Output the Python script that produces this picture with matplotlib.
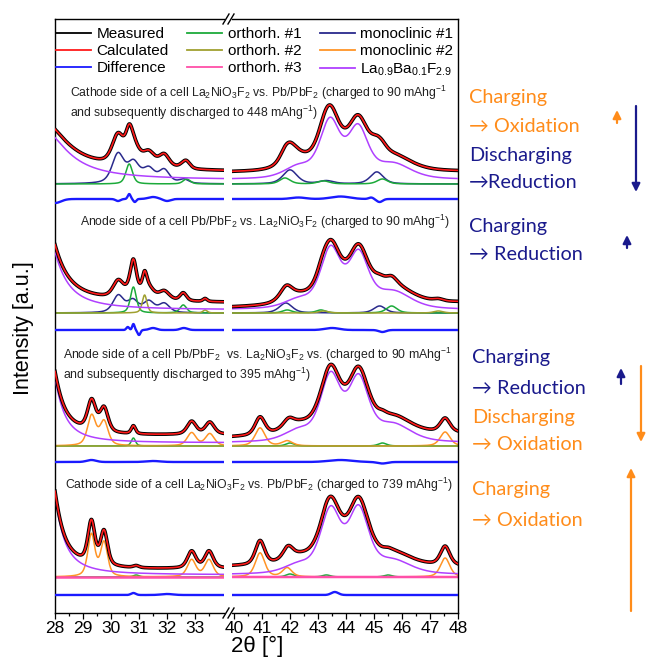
import numpy as np
import matplotlib
matplotlib.use("Agg")
import matplotlib.pyplot as plt
from matplotlib.lines import Line2D
from matplotlib.patches import FancyArrowPatch

plt.rcParams['font.family'] = ['Liberation Sans', 'DejaVu Sans']
plt.rcParams['mathtext.fontset'] = 'custom'
plt.rcParams['mathtext.rm'] = 'Liberation Sans'
plt.rcParams['mathtext.it'] = 'Liberation Sans:italic'
plt.rcParams['mathtext.bf'] = 'Liberation Sans:bold'

# phase colours
C_MEAS = '#000000'
C_CALC = '#FF1A1A'
C_DIFF = '#1A1AFF'
C_ORTH1 = '#1CAA3A'
C_ORTH2 = '#A0A030'
C_ORTH3 = '#FF4FA8'
C_MONO1 = '#2A2A8C'
C_MONO2 = '#FF9426'
C_LABF = '#B040FF'
ORANGE = '#FF8C1A'
NAVY = '#1A1A8C'

# peak lists: (2theta, height, fwhm[, lorentz fraction]), heights in a.u. above the pattern baseline
# pattern 1: cathode, charged to 90 / discharged to 448 mAh/g
p1_labf = [(27.5, 52, 2.1, 1.0), (43.43, 56, 0.85), (44.43, 48, 0.85), (42.3, 11, 1.2), (45.7, 14, 1.5)]
p1_mono1 = [(30.25, 29, 0.5), (30.8, 20, 0.5), (31.35, 14, 0.5), (31.9, 13, 0.45), (32.6, 4, 0.4),
            (42.0, 14, 0.6), (43.3, 3, 0.6), (45.1, 12, 0.55)]
p1_orth1 = [(30.65, 20, 0.28), (32.7, 5, 0.3), (41.82, 6, 0.45), (43.2, 3, 0.5), (45.3, 5, 0.45)]
p1_diff = [(28.0, -4, 0.5), (30.25, -2, 0.2), (30.65, 5, 0.12), (30.85, -3, 0.12), (31.5, 2, 0.4),
           (32.0, -2, 0.3), (42.3, 1.5, 0.6), (43.8, 2.5, 0.8), (44.9, 1.5, 0.2), (45.2, -3, 0.25)]

# pattern 2: anode, charged to 90 mAh/g
p2_labf = [(27.5, 102, 1.15, 1.0), (43.45, 58, 0.85), (44.45, 52, 0.85), (42.3, 8, 1.2), (45.7, 16, 1.5)]
p2_mono1 = [(30.26, 17, 0.45), (30.78, 12, 0.45), (31.35, 11, 0.45), (31.9, 9, 0.45),
            (41.85, 10, 0.55), (45.2, 7, 0.5)]
p2_orth1 = [(30.8, 26, 0.25), (32.58, 8, 0.28), (41.9, 3, 0.4), (43.1, 3, 0.4), (45.63, 7, 0.45)]
p2_orth2 = [(31.2, 18, 0.2), (33.36, 3, 0.18), (43.2, 2, 0.4), (47.3, 2, 0.4)]
p2_diff = [(30.6, 3, 0.12), (30.8, 6, 0.1), (31.0, -5, 0.12), (31.5, 2, 0.3), (32.6, 2, 0.3),
           (43.5, 2, 0.6), (45.3, -2, 0.3)]

# pattern 3: anode, charged to 90 / discharged to 395 mAh/g
p3_labf = [(27.7, 100, 0.82, 1.0), (43.45, 64, 0.85), (44.45, 60, 0.85), (42.3, 10, 1.2), (45.7, 16, 1.5)]
p3_mono2 = [(29.31, 30, 0.35), (29.75, 24, 0.35), (32.88, 13, 0.38), (33.53, 12, 0.38),
            (40.93, 18, 0.42), (41.9, 5, 0.45), (47.54, 14, 0.42)]
p3_orth1 = [(30.8, 8, 0.18), (42.0, 3, 0.35), (45.3, 3, 0.35)]
p3_diff = [(29.3, 2, 0.4), (31.5, 1, 0.6), (43.8, 2, 1.0), (45.3, -1.5, 0.4)]

# pattern 4: cathode, charged to 739 mAh/g
p4_labf = [(27.7, 124, 0.8, 1.0), (43.45, 62, 0.85), (44.45, 62, 0.85), (42.3, 8, 1.2), (45.7, 12, 1.5)]
p4_mono2 = [(29.3, 42, 0.3), (29.75, 34, 0.3), (32.88, 17, 0.36), (33.5, 17, 0.36),
            (40.93, 24, 0.4), (41.9, 9, 0.4), (47.54, 19, 0.4)]
p4_orth1 = [(30.9, 2, 0.25), (42.0, 3, 0.35), (43.3, 2, 0.35), (45.5, 2, 0.35)]
p4_diff = [(30.8, 2, 0.2), (32.0, 1, 0.5), (43.6, 3, 0.3)]

# vertical stacking (baseline, difference line), LaF3 offset, background (left start/end, right start/end)
offsets = [484, 355, 222, 91]
diff_offsets = [469, 338, 206, 73]
labf_offsets = [4, 3, 3, 2]
backgrounds = [(8, 8, 7, 8), (7, 7, 2, 7), (6, 8, 5, 9), (4, 6, 8, 8)]

titles = [
    ["Cathode side of a cell La$_2$NiO$_3$F$_2$ vs. Pb/PbF$_2$ (charged to 90 mAhg$^{-1}$",
     "and subsequently discharged to 448 mAhg$^{-1}$)"],
    ["Anode side of a cell Pb/PbF$_2$ vs. La$_2$NiO$_3$F$_2$ (charged to 90 mAhg$^{-1}$)"],
    ["Anode side of a cell Pb/PbF$_2$  vs. La$_2$NiO$_3$F$_2$ vs. (charged to 90 mAhg$^{-1}$",
     "and subsequently discharged to 395 mAhg$^{-1}$)"],
    ["Cathode side of a cell La$_2$NiO$_3$F$_2$ vs. Pb/PbF$_2$ (charged to 739 mAhg$^{-1}$)"],
]
title_pos = [(70, 93), (80, 222), (63, 355), (65, 485)]

# right-hand notes: (x px, y px, text, colour)
notes = [
    (469, 97, "Charging", ORANGE), (469, 127, "\u2192 Oxidation", ORANGE),
    (469, 155, "Discharging", NAVY), (469, 183, "\u2192Reduction", NAVY),
    (469, 227, "Charging", NAVY), (469, 255, "\u2192 Reduction", NAVY),
    (472, 358, "Charging", NAVY), (472, 388, "\u2192 Reduction", NAVY),
    (472, 417, "Discharging", ORANGE), (472, 445, "\u2192 Oxidation", ORANGE),
    (472, 490, "Charging", ORANGE), (472, 520, "\u2192 Oxidation", ORANGE),
]
# arrows: (x px, y tail px, y head px, colour)
arrows = [(617, 123, 110, ORANGE), (636, 106, 192, NAVY), (627, 248, 235, NAVY),
          (621, 384, 368, NAVY), (641, 366, 442, ORANGE), (631, 611, 468, ORANGE)]

W, H = 646, 668


def fx(px):
    return px / W


def fy(py):
    return 1 - py / H


def pvoigt(x, peaks, eta=0.5):
    y = np.zeros_like(x)
    for pk in peaks:
        pos, h, w = pk[:3]
        e = pk[3] if len(pk) > 3 else eta
        d = (x - pos) / w
        y += h * (e / (1 + 4 * d * d) + (1 - e) * np.exp(-4 * np.log(2) * d * d))
    return y


def bumps(x, feats):
    y = np.zeros_like(x)
    for pos, a, w in feats:
        y += a * np.exp(-4 * np.log(2) * ((x - pos) / w) ** 2)
    return y


fig = plt.figure(figsize=(6.46, 6.68), dpi=100)
ax1 = fig.add_axes([fx(55), fy(613), fx(224) - fx(55), fy(19) - fy(613)])
ax2 = fig.add_axes([fx(232), fy(613), fx(458) - fx(232), fy(19) - fy(613)])
xl = np.linspace(28, 28 + (224 - 55) / 28, 900)
xr = np.linspace(48 - (458 - 232) / 28, 48, 1200)

patterns = [
    dict(labf=p1_labf, phases=[(p1_mono1, C_MONO1), (p1_orth1, C_ORTH1)], diff=p1_diff),
    dict(labf=p2_labf, phases=[(p2_mono1, C_MONO1), (p2_orth1, C_ORTH1), (p2_orth2, C_ORTH2)], diff=p2_diff),
    dict(labf=p3_labf, phases=[(p3_orth1, C_ORTH1), (p3_mono2, C_MONO2), ([], C_ORTH2)], diff=p3_diff),
    dict(labf=p4_labf, phases=[(p4_orth1, C_ORTH1), (p4_mono2, C_MONO2), ([], C_ORTH3)], diff=p4_diff),
]

for i, pat in enumerate(patterns):
    off = offsets[i]
    bl0, bl1, br0, br1 = backgrounds[i]
    for ax, x, b0, b1 in [(ax1, xl, bl0, bl1), (ax2, xr, br0, br1)]:
        bg = b0 + (b1 - b0) * (x - x[0]) / (x[-1] - x[0])
        labf = labf_offsets[i] + pvoigt(x, pat['labf'])
        calc = bg + labf
        for peaks, col in pat['phases']:
            ph = pvoigt(x, peaks)
            calc = calc + ph
            lw = 1.8 if col == C_ORTH3 else 1.1
            ax.plot(x, off + ph, color=col, lw=lw, zorder=2)
        ax.plot(x, off + labf, color=C_LABF, lw=1.1, zorder=3)
        ax.plot(x, off + calc, color=C_MEAS, lw=2.6, zorder=4)
        ax.plot(x, off + calc, color=C_CALC, lw=1.2, zorder=5)
        ax.plot(x, diff_offsets[i] + bumps(x, pat['diff']), color=C_DIFF, lw=1.7, zorder=4)
    for j, line in enumerate(titles[i]):
        tx, ty = title_pos[i]
        fig.text(fx(tx), fy(ty + 20 * j), line, fontsize=8.8, color='#222222', ha='left', va='center')

for ax in (ax1, ax2):
    ax.set_ylim(668 - 613, 668 - 19)
    ax.set_yticks([])
    ax.tick_params(axis='x', which='major', direction='out', length=4, width=0.9, labelsize=12.5, pad=2)
    ax.tick_params(axis='x', which='minor', direction='out', length=2.4, width=0.9)
    for s in ax.spines.values():
        s.set_linewidth(1.0)
ax1.set_xlim(xl[0], xl[-1])
ax2.set_xlim(xr[0], xr[-1])
ax1.set_xticks(np.arange(28, 34))
ax1.set_xticks(np.arange(28.5, 34, 1.0), minor=True)
ax2.set_xticks(np.arange(40, 49))
ax2.set_xticks(np.arange(40.5, 48, 1.0), minor=True)
ax1.spines['right'].set_visible(False)
ax2.spines['left'].set_visible(False)

# axis break marks
for yb in (19, 613):
    for dx in (0, 5):
        fig.add_artist(Line2D([fx(223 + dx), fx(229 + dx)], [fy(yb + 5), fy(yb - 5)],
                              color='black', lw=1.0))

fig.text(fx(23), fy(328), "Intensity [a.u.]", rotation=90, fontsize=15.5, ha='center', va='center')
fig.text(fx(257), fy(646), "2\u03b8 [\u00b0]", fontsize=16, ha='center', va='center')

handles = [Line2D([], [], color=c, lw=1.3) for c in
           [C_MEAS, C_CALC, C_DIFF, C_ORTH1, C_ORTH2, C_ORTH3, C_MONO1, C_MONO2, C_LABF]]
labels = ["Measured", "Calculated", "Difference", "orthorh. #1", "orthorh. #2", "orthorh. #3",
          "monoclinic #1", "monoclinic #2", "La$_{0.9}$Ba$_{0.1}$F$_{2.9}$"]
fig.legend(handles, labels, ncol=3, loc='upper left', bbox_to_anchor=(fx(56), fy(27)),
           frameon=False, fontsize=11, handlelength=2.3, handletextpad=0.35,
           columnspacing=1.2, labelspacing=0.2, borderpad=0, borderaxespad=0)

for x, y, s, c in notes:
    fig.text(fx(x), fy(y), s, fontsize=14.3, color=c, ha='left', va='center',
             family=['Lato', 'DejaVu Sans'])
for x, y0, y1, c in arrows:
    fig.add_artist(FancyArrowPatch(
        (fx(x), fy(y0)), (fx(x), fy(y1)), transform=fig.transFigure,
        arrowstyle='-|>', mutation_scale=12, color=c, lw=1.6, shrinkA=0, shrinkB=0))

fig.savefig("out.png", dpi=100)
